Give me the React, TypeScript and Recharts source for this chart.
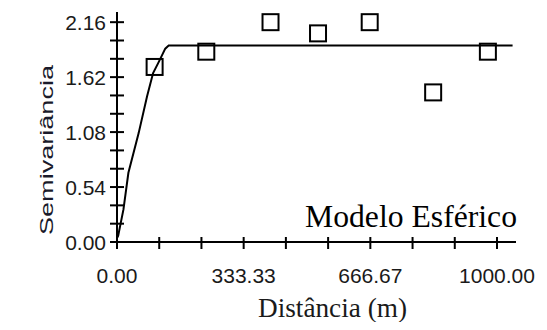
import { ComposedChart, Customized, Line, Scatter, XAxis, YAxis } from 'recharts';

// experimental semivariogram (lag distance in m, semivariance)
const lagDist = [99, 235, 404, 529, 665, 832, 976];
const lagGamma = [1.72, 1.87, 2.16, 2.05, 2.16, 1.47, 1.87];

// fitted spherical model
const modelDist = [0, 3, 17, 30, 57, 79, 95, 110, 127, 136, 1041];
const modelGamma = [0.04, 0.06, 0.32, 0.68, 1.07, 1.43, 1.66, 1.77, 1.9, 1.93, 1.93];

const xTicks = [0, 111.11, 222.22, 333.33, 444.44, 555.56, 666.67, 777.78, 888.89, 1000];
const xTickLabels = ['0.00', '', '', '333.33', '', '', '666.67', '', '', '1000.00'];
const yTicks = [0, 0.18, 0.36, 0.54, 0.72, 0.9, 1.08, 1.26, 1.44, 1.62, 1.8, 1.98, 2.16];
const yTickLabels = ['0.00', '', '', '0.54', '', '', '1.08', '', '', '1.62', '', '', '2.16'];

const points = lagDist.map((h, i) => ({ h, g: lagGamma[i] }));
const model = modelDist.map((h, i) => ({ h, g: modelGamma[i] }));

const sans = '"Liberation Sans", Arial, sans-serif';
const serif = '"Liberation Serif", "Times New Roman", serif';

function XTick({ x, y, index }: any) {
  return (
    <g>
      <line x1={x} x2={x} y1={y - 5} y2={y + 7} stroke="#000" strokeWidth={2} />
      {xTickLabels[index] ? (
        <text x={x} y={y + 41} textAnchor="middle" fill="#1a1a1a" fontSize={21} fontFamily={sans}>
          {xTickLabels[index]}
        </text>
      ) : null}
    </g>
  );
}

function YTick({ x, y, index }: any) {
  return (
    <g>
      <line x1={x - 7} x2={x + 7} y1={y} y2={y} stroke="#000" strokeWidth={2} />
      {yTickLabels[index] ? (
        <text x={x - 11} y={y + 8} textAnchor="end" fill="#1a1a1a" fontSize={21} fontFamily={sans}>
          {yTickLabels[index]}
        </text>
      ) : null}
    </g>
  );
}

function SquareDot({ cx, cy }: any) {
  return <rect x={cx - 8} y={cy - 8} width={16} height={16} fill="none" stroke="#000" strokeWidth={2} />;
}

function Texts() {
  return (
    <g>
      <text
        x={297}
        y={219}
        fontSize={31}
        fontFamily={serif}
        fill="#000"
        textLength={212}
        lengthAdjust="spacingAndGlyphs"
      >
        Modelo Esférico
      </text>
      <text
        x={250}
        y={309}
        fontSize={27}
        fontFamily={serif}
        fill="#1a1a1a"
        textLength={149}
        lengthAdjust="spacingAndGlyphs"
      >
        Distância (m)
      </text>
      <text
        transform="translate(45, 142) rotate(-90)"
        textAnchor="middle"
        fontSize={18}
        fontFamily={sans}
        fill="#1a1a2a"
        textLength={170}
        lengthAdjust="spacingAndGlyphs"
      >
        Semivariância
      </text>
    </g>
  );
}

export default function App() {
  return (
    <ComposedChart width={530} height={314} margin={{ top: 4, right: 22, left: 0, bottom: 0 }}>
      <XAxis
        type="number"
        dataKey="h"
        domain={[0, 1050]}
        ticks={xTicks}
        interval={0}
        allowDataOverflow
        height={80}
        tickSize={0}
        tickMargin={0}
        axisLine={{ stroke: '#000', strokeWidth: 2 }}
        tick={<XTick />}
      />
      <YAxis
        type="number"
        dataKey="g"
        domain={[0, 2.26]}
        ticks={yTicks}
        interval={0}
        allowDataOverflow
        width={109}
        tickSize={0}
        tickMargin={0}
        axisLine={{ stroke: '#000', strokeWidth: 2 }}
        tick={<YTick />}
      />
      <Line
        data={model}
        dataKey="g"
        type="linear"
        stroke="#000"
        strokeWidth={2}
        dot={false}
        activeDot={false}
        isAnimationActive={false}
      />
      <Scatter data={points} dataKey="g" shape={<SquareDot />} isAnimationActive={false} />
      <Customized component={<Texts />} />
    </ComposedChart>
  );
}
